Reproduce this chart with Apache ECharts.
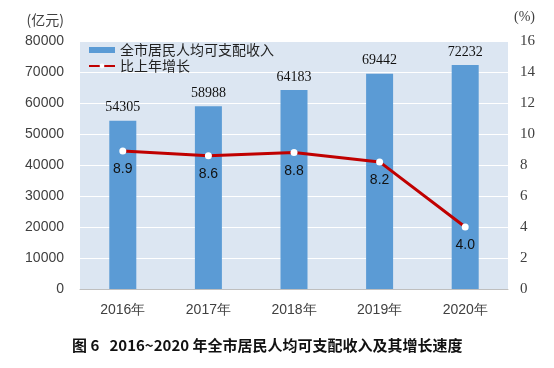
<!DOCTYPE html>
<html><head><meta charset="utf-8">
<script src="https://cdn.jsdelivr.net/npm/echarts@6/dist/echarts.min.js"></script>
<style>html,body{margin:0;padding:0;background:#fff}#c{width:554px;height:368px}</style>
</head><body><div id="c"></div>
<script>
const categories = ['2016年','2017年','2018年','2019年','2020年'];
const income = [54305, 58988, 64183, 69442, 72232];
const growth = [8.9, 8.6, 8.8, 8.2, 4.0];
const growthLabels = ['8.9','8.6','8.8','8.2','4.0'];
const leftTicks = [0,10000,20000,30000,40000,50000,60000,70000,80000];
const rightTicks = [0,2,4,6,8,10,12,14,16];

const chart = echarts.init(document.getElementById('c'), null, {renderer:'canvas'});
chart.setOption({
  animation:false,
  backgroundColor:'#fff',
  grid:{left:80,right:46,top:41,bottom:79,show:true,backgroundColor:'#DCE6F2',borderWidth:0},
  legend:{
    orient:'vertical', left:83, top:38, itemGap:2,
    textStyle:{fontSize:14,color:'#222',fontFamily:'Noto Sans CJK SC'},
    data:[
      {name:'全市居民人均可支配收入', icon:'rect', itemStyle:{color:'#5B9BD5'}},
      {name:'比上年增长'}
    ],
    itemWidth:26, itemHeight:6
  },
  xAxis:{type:'category',data:categories,
    axisLine:{lineStyle:{color:'#BFBFBF'}},axisTick:{show:false},
    axisLabel:{color:'#404040',fontSize:14,fontFamily:'Liberation Sans',margin:14}},
  yAxis:[
    {type:'value',min:0,max:80000,interval:10000,
     name:'(亿元)',nameLocation:'end',nameGap:14,nameTextStyle:{color:'#404040',fontSize:14,align:'right',padding:[0,16,0,0],fontFamily:'Noto Sans CJK SC'},
     axisLabel:{color:'#404040',fontSize:14,fontFamily:'Liberation Sans',margin:16,formatter:v=>String(v)},
     splitLine:{lineStyle:{color:'#fff',width:1}},axisLine:{show:false},axisTick:{show:false}},
    {type:'value',min:0,max:16,interval:2,position:'right',
     name:'(%)',nameLocation:'end',nameGap:17,nameTextStyle:{color:'#404040',fontSize:14,align:'left',padding:[0,0,0,6],fontFamily:'Liberation Serif'},
     axisLabel:{color:'#404040',fontSize:15,fontFamily:'Liberation Serif',margin:12},
     splitLine:{show:false},axisLine:{show:false},axisTick:{show:false}}
  ],
  series:[
    {name:'全市居民人均可支配收入',type:'bar',data:income,barWidth:27,
     itemStyle:{color:'#5B9BD5'},
     label:{show:true,position:'top',distance:6,color:'#111',fontSize:14,fontFamily:'Liberation Serif'}},
    {name:'比上年增长',type:'line',yAxisIndex:1,data:growth,
     lineStyle:{color:'#C00000',width:3},itemStyle:{color:'#fff',borderColor:'#C00000',borderWidth:0},
     symbol:'circle',symbolSize:7,
     label:{show:true,position:'bottom',distance:8,color:'#111',fontSize:14,fontFamily:'Liberation Sans',
       formatter:p=>growthLabels[p.dataIndex]}}
  ],
  graphic:[{type:'text',left:72,top:338,style:{text:'图 6   2016~2020 年全市居民人均可支配收入及其增长速度',fontSize:15,fontWeight:'bold',fill:'#111',fontFamily:'Noto Sans CJK SC'}}]
});
</script></body></html>
